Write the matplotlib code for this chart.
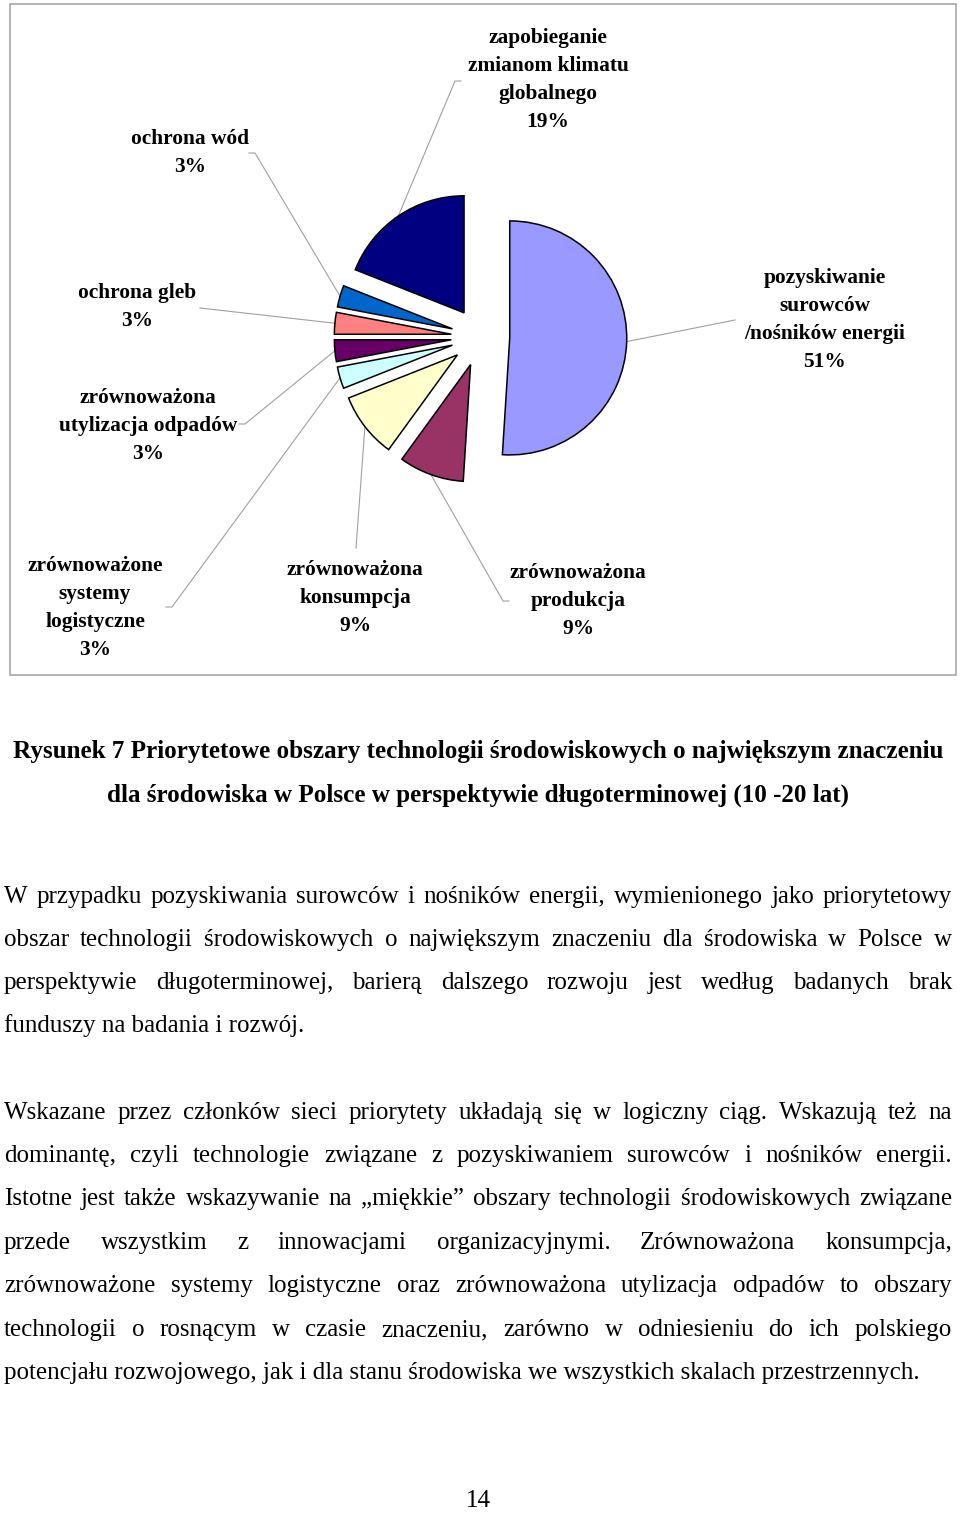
import matplotlib
matplotlib.use("Agg")
import matplotlib.pyplot as plt
import numpy as np
from matplotlib.patches import Rectangle

W, H = 960, 1514
SERIF = "Liberation Serif"

# pie data, clockwise from 12 o'clock
areas = [
    "pozyskiwanie\nsurowców\n/nośników energii",
    "zrównoważona\nprodukcja",
    "zrównoważona\nkonsumpcja",
    "zrównoważone\nsystemy\nlogistyczne",
    "zrównoważona\nutylizacja odpadów",
    "ochrona gleb",
    "ochrona wód",
    "zapobieganie\nzmianom klimatu\nglobalnego",
]
shares = [51, 9, 9, 3, 3, 3, 3, 19]
colors = ["#9999ff", "#993366", "#ffffcc", "#ccffff",
          "#660066", "#ff8080", "#0066cc", "#000080"]

# label centres and leader-line ends (page pixels, y down)
label_xy = [(825, 319), (578, 600), (355, 597), (95, 607),
            (148, 425), (137, 306), (190, 152), (548, 79)]
leader_end = [[(735, 320)], [(503, 601), (509, 601)], [(356, 548)],
              [(172, 607), (166, 607)], [(245, 424), (239, 424)],
              [(200, 308)], [(255, 153), (249, 153)], [(455, 81), (461, 81)]]

caption = [
    "Rysunek 7 Priorytetowe obszary technologii środowiskowych o największym znaczeniu",
    "dla środowiska w Polsce w perspektywie długoterminowej (10 -20 lat)",
]

paragraphs = [
    ["W przypadku pozyskiwania surowców i nośników energii, wymienionego jako priorytetowy",
     "obszar technologii środowiskowych o największym znaczeniu dla środowiska w Polsce w",
     "perspektywie długoterminowej, barierą dalszego rozwoju jest według badanych brak",
     "funduszy na badania i rozwój."],
    ["Wskazane przez członków sieci priorytety układają się w logiczny ciąg. Wskazują też na",
     "dominantę, czyli technologie związane z pozyskiwaniem surowców i nośników energii.",
     "Istotne jest także wskazywanie na „miękkie” obszary technologii środowiskowych związane",
     "przede wszystkim z innowacjami organizacyjnymi. Zrównoważona konsumpcja,",
     "zrównoważone systemy logistyczne oraz zrównoważona utylizacja odpadów to obszary",
     "technologii o rosnącym w czasie znaczeniu, zarówno w odniesieniu do ich polskiego",
     "potencjału rozwojowego, jak i dla stanu środowiska we wszystkich skalach przestrzennych."],
]
para_baselines = [[903, 946, 989, 1032],
                  [1119, 1162, 1205, 1249, 1292, 1336, 1379]]
page_number = "14"

fig = plt.figure(figsize=(W / 100, H / 100), dpi=100)
fig.patch.set_facecolor("white")

ov = fig.add_axes([0, 0, 1, 1])
ov.set_xlim(0, W)
ov.set_ylim(H, 0)
ov.axis("off")
renderer = fig.canvas.get_renderer()


def fit_size(text, target, weight="normal"):
    t = ov.text(0, 0, text, fontsize=10, family=SERIF, weight=weight)
    w = t.get_window_extent(renderer).width
    t.remove()
    return 10 * target / w


# pie, in units of one radius (117 px)
R = 117
cx, cy, s = 480.5, 337, 200
pax = fig.add_axes([(cx - s) / W, 1 - (cy + s) / H, 2 * s / W, 2 * s / H])
wedges, _ = pax.pie(shares, colors=colors, startangle=90, counterclock=False,
                    explode=[0.25] * len(shares), radius=1,
                    wedgeprops=dict(edgecolor="black", linewidth=1.1))
pax.set_xlim(-s / R, s / R)
pax.set_ylim(-s / R, s / R)
pax.axis("off")

# frame round the chart
ov.add_patch(Rectangle((10, 4), 946, 671, fill=False, edgecolor="#a8a8a8", lw=1.2))

lab_size = fit_size("utylizacja odpadów", 178, "bold")
to_ov = pax.transData + ov.transData.inverted()
for w, name, v, (lx, ly), ends in zip(wedges, areas, shares, label_xy, leader_end):
    mid = np.deg2rad((w.theta1 + w.theta2) / 2)
    px, py = to_ov.transform((w.center[0] + w.r * np.cos(mid),
                              w.center[1] + w.r * np.sin(mid)))
    xs = [px] + [e[0] for e in ends]
    ys = [py] + [e[1] for e in ends]
    ov.plot(xs, ys, color="#a0a0a0", lw=0.8, zorder=1)
    lines = f"{name}\n{v}%".split("\n")
    n = len(lines)
    for i, ln in enumerate(lines):
        ov.text(lx, ly + (i - (n - 1) / 2) * 28 + 6, ln, fontsize=lab_size,
                family=SERIF, weight="bold", ha="center", va="baseline")

cap_size = fit_size(caption[0], 931, "bold")
for ln, yb in zip(caption, [758, 802]):
    ov.text(478, yb, ln, fontsize=cap_size, family=SERIF, weight="bold",
            ha="center", va="baseline")

body_size = fit_size(paragraphs[1][-1], 918)
LEFT, RIGHT = 4, 952
for lines, bases in zip(paragraphs, para_baselines):
    for k, (ln, yb) in enumerate(zip(lines, bases)):
        if k == len(lines) - 1:
            ov.text(LEFT, yb, ln, fontsize=body_size, family=SERIF, va="baseline")
            continue
        words = ln.split()
        texts = [ov.text(0, yb, wd, fontsize=body_size, family=SERIF, va="baseline")
                 for wd in words]
        widths = [t.get_window_extent(renderer).width for t in texts]
        gap = (RIGHT - LEFT - sum(widths)) / (len(words) - 1)
        x = LEFT
        for t, wd in zip(texts, widths):
            t.set_x(x)
            x += wd + gap

ov.text(478, 1512, page_number, fontsize=body_size, family=SERIF,
        ha="center", va="bottom")

fig.savefig("out.png", dpi=100, facecolor="white")
